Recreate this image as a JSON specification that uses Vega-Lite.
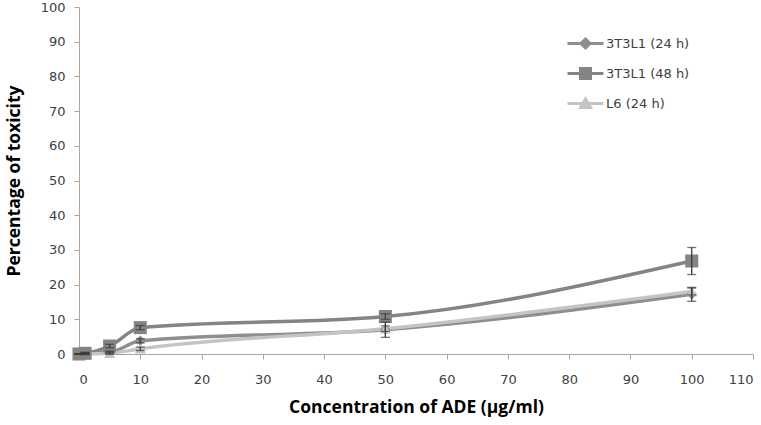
{
  "$schema": "https://vega.github.io/schema/vega-lite/v6.json",
  "width": 674,
  "height": 347,
  "autosize": {"type": "none"},
  "padding": {"left": 79, "top": 7, "right": 8, "bottom": 71},
  "background": "white",
  "config": {
    "view": {"stroke": null},
    "axis": {
      "grid": false,
      "domainColor": "#a6a6a6",
      "tickColor": "#a6a6a6",
      "tickSize": 5,
      "labelFont": "DejaVu Sans",
      "labelFontSize": 13,
      "labelColor": "#404040",
      "titleFont": "Open Sans",
      "titleFontWeight": "bold",
      "titleFontSize": 17.5,
      "titleColor": "#000000"
    }
  },
  "data": {
    "values": [
      {"series": "3T3L1 (24 h)", "conc": 0, "tox": 0, "err": 0},
      {"series": "3T3L1 (24 h)", "conc": 1, "tox": 0.3, "err": 0.2},
      {"series": "3T3L1 (24 h)", "conc": 5, "tox": 0.5, "err": 0.3},
      {"series": "3T3L1 (24 h)", "conc": 10, "tox": 3.8, "err": 0.6},
      {"series": "3T3L1 (24 h)", "conc": 50, "tox": 7.0, "err": 2.2},
      {"series": "3T3L1 (24 h)", "conc": 100, "tox": 17.2, "err": 2.0},
      {"series": "3T3L1 (48 h)", "conc": 0, "tox": 0, "err": 0},
      {"series": "3T3L1 (48 h)", "conc": 1, "tox": 0.2, "err": 0.2},
      {"series": "3T3L1 (48 h)", "conc": 5, "tox": 2.3, "err": 0.5},
      {"series": "3T3L1 (48 h)", "conc": 10, "tox": 7.6, "err": 0.6},
      {"series": "3T3L1 (48 h)", "conc": 50, "tox": 10.8, "err": 0.8},
      {"series": "3T3L1 (48 h)", "conc": 100, "tox": 26.8, "err": 3.9},
      {"series": "L6 (24 h)", "conc": 0, "tox": 0, "err": 0},
      {"series": "L6 (24 h)", "conc": 1, "tox": 0, "err": 0.2},
      {"series": "L6 (24 h)", "conc": 5, "tox": 0.2, "err": 0.3},
      {"series": "L6 (24 h)", "conc": 10, "tox": 1.5, "err": 0.5},
      {"series": "L6 (24 h)", "conc": 50, "tox": 7.3, "err": 0.8},
      {"series": "L6 (24 h)", "conc": 100, "tox": 18.0, "err": 1.0}
    ]
  },
  "encoding": {
    "x": {
      "field": "conc",
      "type": "quantitative",
      "scale": {"domain": [0, 110], "nice": false, "zero": true},
      "axis": {
        "values": [0, 10, 20, 30, 40, 50, 60, 70, 80, 90, 100, 110],
        "labelPadding": 14,
        "titlePadding": 12,
        "title": "Concentration of ADE (µg/ml)"
      }
    },
    "y": {
      "field": "tox",
      "type": "quantitative",
      "scale": {"domain": [0, 100], "nice": false},
      "axis": {
        "values": [0, 10, 20, 30, 40, 50, 60, 70, 80, 90, 100],
        "labelPadding": 9,
        "titlePadding": 17,
        "title": "Percentage of toxicity"
      }
    }
  },
  "layer": [
    {
      "mark": {"type": "line", "interpolate": "monotone", "strokeWidth": 3.5},
      "encoding": {
        "color": {
          "field": "series",
          "type": "nominal",
          "scale": {
            "domain": ["3T3L1 (24 h)", "3T3L1 (48 h)", "L6 (24 h)"],
            "range": ["#8e8e8e", "#848484", "#c4c4c4"]
          },
          "legend": {
            "title": null,
            "orient": "none",
            "legendX": 487,
            "legendY": 30,
            "rowPadding": 8,
            "symbolSize": 100,
            "labelOffset": 27,
            "labelFont": "DejaVu Sans",
            "labelFontSize": 13,
            "labelColor": "#404040",
            "encode": {
              "symbols": {
                "update": {
                  "shape": {
                    "signal": "datum.value == '3T3L1 (24 h)' ? 'M-1,0H6.2M2.6,-0.9L3.5,0L2.6,0.9L1.7,0Z' : datum.value == '3T3L1 (48 h)' ? 'M-1,0H6.2M1.6,-1H3.6V1H1.6Z' : 'M-1,0H6.2M2.6,-0.9L3.6,0.8H1.6Z'"
                  },
                  "stroke": {"scale": "color", "field": "value"},
                  "fill": {"scale": "color", "field": "value"},
                  "strokeWidth": {"value": 3},
                  "opacity": {"value": 1}
                }
              }
            }
          }
        }
      }
    },
    {
      "transform": [{"filter": "datum.series == '3T3L1 (24 h)'"}],
      "mark": {"type": "point", "filled": true, "opacity": 1, "shape": "diamond", "size": 110, "color": "#8e8e8e"},
      "encoding": {}
    },
    {
      "transform": [{"filter": "datum.series == 'L6 (24 h)'"}],
      "mark": {"type": "point", "filled": true, "opacity": 1, "shape": "triangle-up", "size": 120, "color": "#c4c4c4"},
      "encoding": {}
    },
    {
      "transform": [{"filter": "datum.series == '3T3L1 (48 h)'"}],
      "mark": {"type": "point", "filled": true, "opacity": 1, "shape": "square", "size": 170, "color": "#848484"},
      "encoding": {}
    },
    {
      "mark": {"type": "errorbar", "ticks": {"size": 9}, "color": "#3a3a3a", "thickness": 1.3},
      "encoding": {
        "yError": {"field": "err"}
      }
    }
  ]
}
